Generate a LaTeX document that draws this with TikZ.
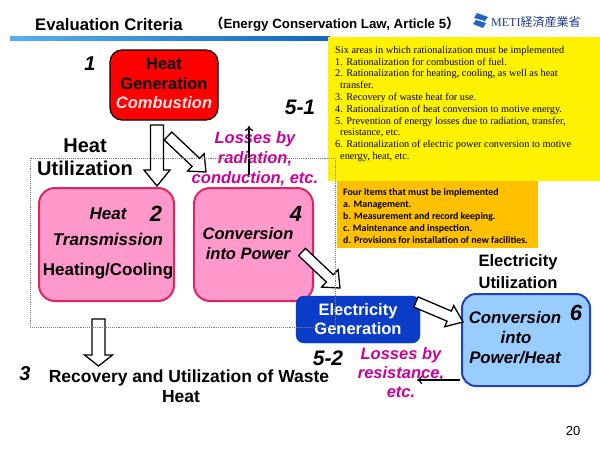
\documentclass[tikz,border=0pt]{standalone}
\usepackage{fontspec}
\setmainfont{Liberation Sans}
\newfontfamily\serifff{Liberation Serif}
\newfontfamily\carl{Carlito}
\newfontfamily\cjkf{Noto Sans CJK JP}
\usetikzlibrary{calc,arrows.meta}
\newcommand\fsz[2]{\fontsize{#1pt}{#2pt}\selectfont}
\definecolor{pinkfill}{HTML}{FF99CC}
\definecolor{pinkline}{HTML}{E0245E}
\definecolor{lbfill}{HTML}{99CCFF}
\definecolor{lbline}{HTML}{2040C8}
\definecolor{genblue}{HTML}{0A3CC8}
\definecolor{magtext}{HTML}{CC0099}
\definecolor{orangefill}{HTML}{FFC000}
\definecolor{logoblue}{HTML}{1F3A93}
\definecolor{iconblue}{HTML}{1E64C8}
\definecolor{ruleL}{HTML}{5AAEF0}
\definecolor{ruleR}{HTML}{1565C0}
\tikzset{
  txt/.style={inner sep=0pt, anchor=base},
  bigb/.style={font=\bfseries\fsz{16.5}{19}},
  bigbi/.style={font=\bfseries\itshape\fsz{16.5}{19}},
  numst/.style={font=\bfseries\itshape\fsz{21}{24}},
  losses/.style={font=\bfseries\itshape\fsz{16.5}{19}, text=magtext},
  blockarr/.style={draw=black, line width=1.3pt, fill=white, line join=miter},
  thinarr/.style={draw=black, line width=1.2pt, -{To[length=5pt,width=8pt]}},
  redbox/.style={draw=black, line width=1.2pt, fill=red, rounded corners=12pt},
  pinkbox/.style={draw=pinkline, line width=2pt, fill=pinkfill, rounded corners=16pt},
  lbbox/.style={draw=lbline, line width=2pt, fill=lbfill, rounded corners=14pt},
  genbox/.style={draw=genblue, fill=genblue, rounded corners=8pt}
}
\newcommand\blockarrow[5]{%
  \coordinate (ba) at ($(#2)!#5!(#1)$);
  \draw[blockarr] ($(#1)!#3!90:(#2)$) -- ($(ba)!#3!90:(#2)$) -- ($(ba)!#4!90:(#2)$) -- (#2)
    -- ($(ba)!#4!-90:(#2)$) -- ($(ba)!#3!-90:(#2)$) -- ($(#1)!#3!-90:(#2)$) -- cycle;}
\begin{document}
\begin{tikzpicture}[x=1pt,y=-1pt]
\useasboundingbox[fill=white] (0,0) rectangle (600,450);
% header
\shade[left color=ruleL, right color=ruleR] (10,36) rectangle (330,40);
\node[txt, anchor=base west, font=\bfseries\fsz{16.7}{20}] (title) at (35,30) {Evaluation Criteria};
\node[txt, anchor=base west, font=\bfseries\fsz{13.3}{15}] (subtitle) at (210,28) {{\cjkf （}Energy Conservation Law, Article 5{\cjkf ）}};
\fill[iconblue] (477,13) -- (488,17) -- (485,21) -- (474,18) -- cycle;
\fill[iconblue] (476,20) -- (486,23) -- (483,28) -- (473,24) -- cycle;
\node[txt, anchor=base west, text=logoblue] (logo) at (491,26) {{\serifff\fsz{12}{14}METI}{\cjkf\fsz{12}{14}経済産業省}};
% yellow box
\fill[yellow] (328,37) rectangle (600,181);
\node[inner sep=0pt, anchor=north west, align=left, font=\serifff\fsz{10.3}{11.8}] (ytext) at (335,46) {Six areas in which rationalization must be implemented\\
1. Rationalization for combustion of fuel.\\
2. Rationalization for heating, cooling, as well as heat\\
\hspace*{5pt}transfer.\\
3. Recovery of waste heat for use.\\
4. Rationalization of heat conversion to motive energy.\\
5. Prevention of energy losses due to radiation, transfer,\\
\hspace*{5pt}resistance, etc.\\
6. Rationalization of electric power conversion to motive\\
\hspace*{5pt}energy, heat, etc.};
% orange box
\fill[orangefill] (337,181) rectangle (538,248);
\node[inner sep=0pt, anchor=north west, align=left, font=\carl\bfseries\fsz{9.9}{12}] (otext) at (343,188) {Four items that must be implemented\\
a. Management.\\
b. Measurement and record keeping.\\
c. Maintenance and inspection.\\
d. Provisions for installation of new facilities.};
% heat generation
\node[redbox, minimum width=108pt, minimum height=70pt] (gen) at (164,85) {};
\node[txt, bigb] (g1) at (164,69) {Heat};
\node[txt, bigb] (g2) at (164,89) {Generation};
\node[txt, bigbi, text={rgb,255:red,255;green,228;blue,228}] (g3) at (164,108) {Combustion};
\node[txt, font=\bfseries\itshape\fsz{20}{24}] (n1) at (90,70) {1};
\node[txt, font=\bfseries\fsz{20}{24}] (hu1) at (85,152) {Heat};
\node[txt, font=\bfseries\fsz{20}{24}] (hu2) at (85,175) {Utilization};
\node[txt, numst] (n51) at (300,114) {5-1};
\node[txt, losses] (l1a) at (255,143) {Losses by};
\node[txt, losses] (l1b) at (255,163) {radiation,};
\node[txt, losses] (l1c) at (255,183) {conduction, etc.};
% pink boxes
\node[pinkbox, minimum width=135pt, minimum height=113pt] (b2) at (106.5,244.5) {};
\node[txt, font=\bfseries\itshape\fsz{17}{20}] (b2a) at (108,219) {Heat};
\node[txt, font=\bfseries\itshape\fsz{22}{26}] (n2) at (156,221) {2};
\node[txt, font=\bfseries\itshape\fsz{17}{20}] (b2b) at (108,245) {Transmission};
\node[txt, font=\bfseries\fsz{17}{20}] (b2c) at (108,275) {Heating/Cooling};
\node[pinkbox, minimum width=119pt, minimum height=113pt] (b4) at (253.5,244.5) {};
\node[txt, font=\bfseries\itshape\fsz{22}{26}] (n4) at (296,221) {4};
\node[txt, font=\bfseries\itshape\fsz{16.5}{19}] (b4a) at (248,239) {Conversion};
\node[txt, font=\bfseries\itshape\fsz{16.5}{19}] (b4b) at (248,259) {into Power};
% electricity generation
\node[genbox, minimum width=124pt, minimum height=47pt] (eg) at (358,319.5) {};
\node[txt, bigb, text=white] (eg1) at (358,315) {Electricity};
\node[txt, bigb, text=white] (eg2) at (358,334) {Generation};
% electricity utilization
\node[txt, bigb] (eu1) at (518,266) {Electricity};
\node[txt, bigb] (eu2) at (518,288) {Utilization};
\node[lbbox, minimum width=128pt, minimum height=92pt] (b6) at (526,340) {};
\node[txt, font=\bfseries\itshape\fsz{16.8}{19}] (b6a) at (515,323) {Conversion};
\node[txt, font=\bfseries\itshape\fsz{16.8}{19}] (b6b) at (516,343) {into};
\node[txt, font=\bfseries\itshape\fsz{16.8}{19}] (b6c) at (515,363) {Power/Heat};
\node[txt, font=\bfseries\itshape\fsz{22}{26}] (n6) at (576,320) {6};
\node[txt, numst] (n52) at (328,365) {5-2};
\node[txt, losses] (l2a) at (401,359) {Losses by};
\node[txt, losses] (l2b) at (401,378) {resistance,};
\node[txt, losses] (l2c) at (401,397) {etc.};
% waste heat
\node[txt, font=\bfseries\itshape\fsz{20}{24}] (n3) at (25,380) {3};
\node[txt, font=\bfseries\fsz{17.5}{20}] (w1) at (189,382) {Recovery and Utilization of Waste};
\node[txt, font=\bfseries\fsz{17.5}{20}] (w2) at (181,402) {Heat};
\node[txt, font=\fsz{13}{15}] (pg) at (573,435) {20};
% arrows
\coordinate (a1s) at (157,125); \coordinate (a1t) at (157,186);
\blockarrow{a1s}{a1t}{6.5pt}{13pt}{16pt}
\coordinate (a2s) at (168,136); \coordinate (a2t) at (206,172);
\blockarrow{a2s}{a2t}{5.5pt}{12pt}{14pt}
\coordinate (a3s) at (302,252); \coordinate (a3t) at (340,288);
\blockarrow{a3s}{a3t}{5pt}{12pt}{14pt}
\coordinate (a4s) at (416,302); \coordinate (a4t) at (463,322);
\blockarrow{a4s}{a4t}{5.5pt}{11.5pt}{15pt}
\coordinate (a5s) at (98.5,319); \coordinate (a5t) at (98.5,366);
\blockarrow{a5s}{a5t}{6.5pt}{14pt}{11pt}
\coordinate (t1s) at (249,175); \coordinate (t1t) at (249,126);
\draw[thinarr] (t1s) -- (t1t);
\coordinate (t2s) at (460,380); \coordinate (t2t) at (417,380);
\draw[thinarr] (t2s) -- (t2t);
% dotted frame
\draw[densely dotted, draw=gray, line width=0.9pt] (30,158) rectangle (335,327);
\end{tikzpicture}
\end{document}
